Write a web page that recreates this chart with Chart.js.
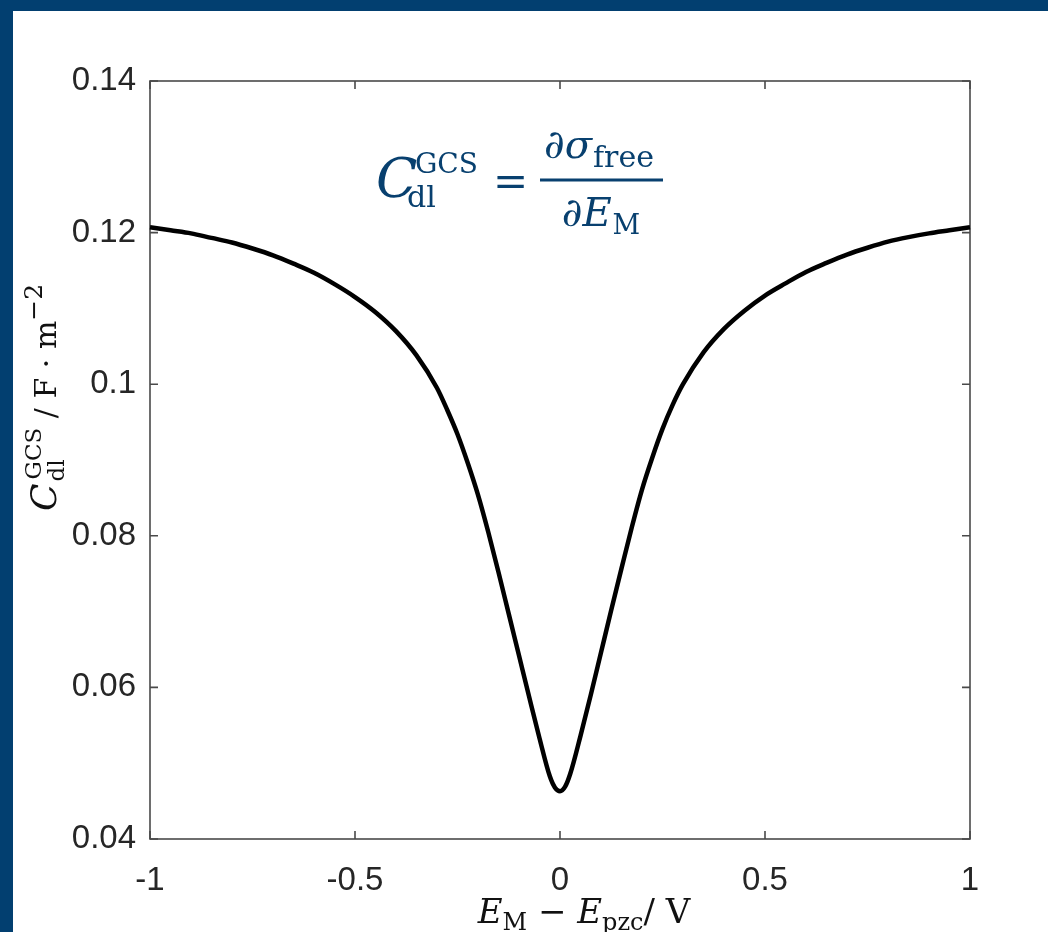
<!DOCTYPE html>
<html>
<head>
<meta charset="utf-8">
<script src="https://cdn.jsdelivr.net/npm/chart.js@4/dist/chart.umd.min.js"></script>
<style>
  html, body { margin: 0; padding: 0; background: #fff; }
  #wrap { position: relative; width: 1048px; height: 932px; overflow: hidden; }
  #cap-chart { position: absolute; left: 0; top: 0; }
  .band { position: absolute; background: #023f70; }
</style>
</head>
<body>
<div id="wrap">
  <canvas id="cap-chart" width="1048" height="932"></canvas>
  <div class="band" style="left:0;top:0;width:1048px;height:11px"></div>
  <div class="band" style="left:0;top:0;width:13px;height:932px"></div>
</div>
<script>
// electrode potential vs. pzc (V) and double-layer capacitance (F/m^2)
const potentials = [-1, -0.95, -0.9, -0.85, -0.8, -0.75, -0.7, -0.65, -0.6, -0.55, -0.5,
  -0.45, -0.4, -0.35, -0.3, -0.275, -0.25, -0.225, -0.2, -0.175, -0.15, -0.125, -0.1,
  -0.075, -0.05, -0.025, -0.0125, 0, 0.0125, 0.025, 0.05, 0.075, 0.1, 0.125, 0.15, 0.175,
  0.2, 0.225, 0.25, 0.275, 0.3, 0.35, 0.4, 0.45, 0.5, 0.55, 0.6, 0.65, 0.7, 0.75, 0.8,
  0.85, 0.9, 0.95, 1];
const capacitance = [0.1207, 0.1203, 0.1199, 0.1193, 0.1187, 0.1179, 0.1170, 0.1159,
  0.1147, 0.1132, 0.1115, 0.1095, 0.1070, 0.1038, 0.0995, 0.0966, 0.0934, 0.0896, 0.0854,
  0.0805, 0.0752, 0.0697, 0.0642, 0.0587, 0.0533, 0.0483, 0.0468, 0.0463, 0.0469, 0.0486,
  0.0536, 0.0590, 0.0646, 0.0702, 0.0757, 0.0811, 0.0861, 0.0903, 0.0941, 0.0973, 0.1000,
  0.1042, 0.1073, 0.1097, 0.1117, 0.1133, 0.1148, 0.1160, 0.1171, 0.1180, 0.1188, 0.1194,
  0.1199, 0.1203, 0.1207];
const xTicks = [-1, -0.5, 0, 0.5, 1];
const yTicks = [0.04, 0.06, 0.08, 0.1, 0.12, 0.14];

const BLUE = "#08406f";
const SERIF = "'DejaVu Serif', 'Liberation Serif', serif";

function setFont(ctx, r) {
  ctx.font = (r.italic ? "italic " : "") + r.size + "px " + SERIF;
}

// draw a row of text pieces; a piece may hold a stacked sub/sup pair
function drawRuns(ctx, x, y, runs) {
  runs.forEach((r) => {
    if (r.at !== undefined) x = r.at;
    if (r.stack) {
      let w = 0;
      r.stack.forEach((s) => {
        setFont(ctx, s);
        const sx = x + (s.dx || 0);
        ctx.fillText(s.text, sx, y + (s.dy || 0));
        w = Math.max(w, (s.dx || 0) + ctx.measureText(s.text).width);
      });
      x += w;
    } else {
      setFont(ctx, r);
      ctx.fillText(r.text, x, y + (r.dy || 0));
      x += ctx.measureText(r.text).width + (r.gap || 0);
    }
  });
  return x;
}

function runsWidth(ctx, runs) {
  let w = 0;
  runs.forEach((r) => {
    setFont(ctx, r);
    w += ctx.measureText(r.text).width + (r.gap || 0);
  });
  return w;
}

const frameAndLabels = {
  id: "frameAndLabels",
  beforeDatasetsDraw(chart) {
    const { ctx, chartArea: a, scales } = chart;
    ctx.save();
    ctx.strokeStyle = "#4a4a4a";
    ctx.lineWidth = 1.6;
    ctx.strokeRect(a.left, a.top, a.right - a.left, a.bottom - a.top);
    const tl = 8;
    ctx.beginPath();
    xTicks.forEach((v) => {
      const px = scales.x.getPixelForValue(v);
      ctx.moveTo(px, a.bottom); ctx.lineTo(px, a.bottom - tl);
      ctx.moveTo(px, a.top); ctx.lineTo(px, a.top + tl);
    });
    yTicks.forEach((v) => {
      const py = scales.y.getPixelForValue(v);
      ctx.moveTo(a.left, py); ctx.lineTo(a.left + tl, py);
      ctx.moveTo(a.right, py); ctx.lineTo(a.right - tl, py);
    });
    ctx.stroke();
    ctx.restore();
  },
  afterDraw(chart) {
    const { ctx } = chart;
    ctx.save();
    ctx.textBaseline = "alphabetic";
    ctx.textAlign = "left";

    // x axis title
    ctx.fillStyle = "#111";
    const xRuns = [
      { text: "E", size: 34, italic: true },
      { text: "M", size: 24, dy: 7 },
      { text: " − ", size: 34 },
      { text: "E", size: 34, italic: true },
      { text: "pzc", size: 24, dy: 7 },
      { text: "/ V", size: 34 },
    ];
    drawRuns(ctx, 584 - runsWidth(ctx, xRuns) / 2, 923, xRuns);

    // y axis title, rotated
    ctx.save();
    ctx.translate(56, 511);
    ctx.rotate(-Math.PI / 2);
    drawRuns(ctx, 0, 0, [
      { text: "C", size: 36, italic: true, gap: 2 },
      { stack: [
        { text: "dl", size: 23, dy: 8 },
        { text: "GCS", size: 23, dy: -15, dx: 2 },
      ] },
      { text: " / F · m", size: 30 },
      { text: "−2", size: 25, dy: -14 },
    ]);
    ctx.restore();

    // capacitance definition
    ctx.fillStyle = BLUE;
    drawRuns(ctx, 376, 197, [
      { text: "C", size: 54, italic: true },
      { at: 407, stack: [
        { text: "dl", size: 30, dy: 10 },
        { text: "GCS", size: 28, dy: -24, dx: 8 },
      ] },
    ]);
    ctx.font = "42px " + SERIF;
    ctx.fillText("=", 493, 196);
    ctx.fillRect(540, 178.5, 123, 3);
    const num = [
      { text: "∂σ", size: 40, italic: true, gap: 1 },
      { text: "free", size: 30, dy: 9 },
    ];
    const den = [
      { text: "∂E", size: 40, italic: true, gap: 1 },
      { text: "M", size: 27, dy: 8 },
    ];
    drawRuns(ctx, 599 - runsWidth(ctx, num) / 2, 158, num);
    drawRuns(ctx, 601 - runsWidth(ctx, den) / 2, 226, den);
    ctx.restore();
  },
};

const points = potentials.map((x, i) => ({ x, y: capacitance[i] }));

new Chart(document.getElementById("cap-chart"), {
  type: "scatter",
  data: {
    datasets: [{
      data: points,
      showLine: true,
      borderColor: "#000",
      borderWidth: 4.5,
      pointRadius: 0,
      cubicInterpolationMode: "monotone",
      clip: 6,
    }],
  },
  options: {
    responsive: false,
    animation: false,
    layout: { padding: { left: 0, top: 81, right: 78, bottom: 0 } },
    plugins: { legend: { display: false }, tooltip: { enabled: false } },
    scales: {
      x: {
        type: "linear",
        min: -1,
        max: 1,
        afterFit: (s) => { s.height = 93; },
        afterBuildTicks: (s) => { s.ticks = xTicks.map((v) => ({ value: v })); },
        grid: { display: false, drawTicks: false },
        border: { display: false },
        ticks: {
          padding: 22,
          color: "#262626",
          font: { family: "'Liberation Sans', Arial, sans-serif", size: 33 },
          callback: (v) => String(v),
        },
      },
      y: {
        min: 0.04,
        max: 0.14,
        afterFit: (s) => { s.width = 150; },
        afterBuildTicks: (s) => { s.ticks = yTicks.map((v) => ({ value: v })); },
        grid: { display: false, drawTicks: false },
        border: { display: false },
        ticks: {
          padding: 14,
          color: "#262626",
          font: { family: "'Liberation Sans', Arial, sans-serif", size: 33 },
          callback: (v) => String(+v.toFixed(2)),
        },
      },
    },
  },
  plugins: [frameAndLabels],
});
</script>
</body>
</html>
